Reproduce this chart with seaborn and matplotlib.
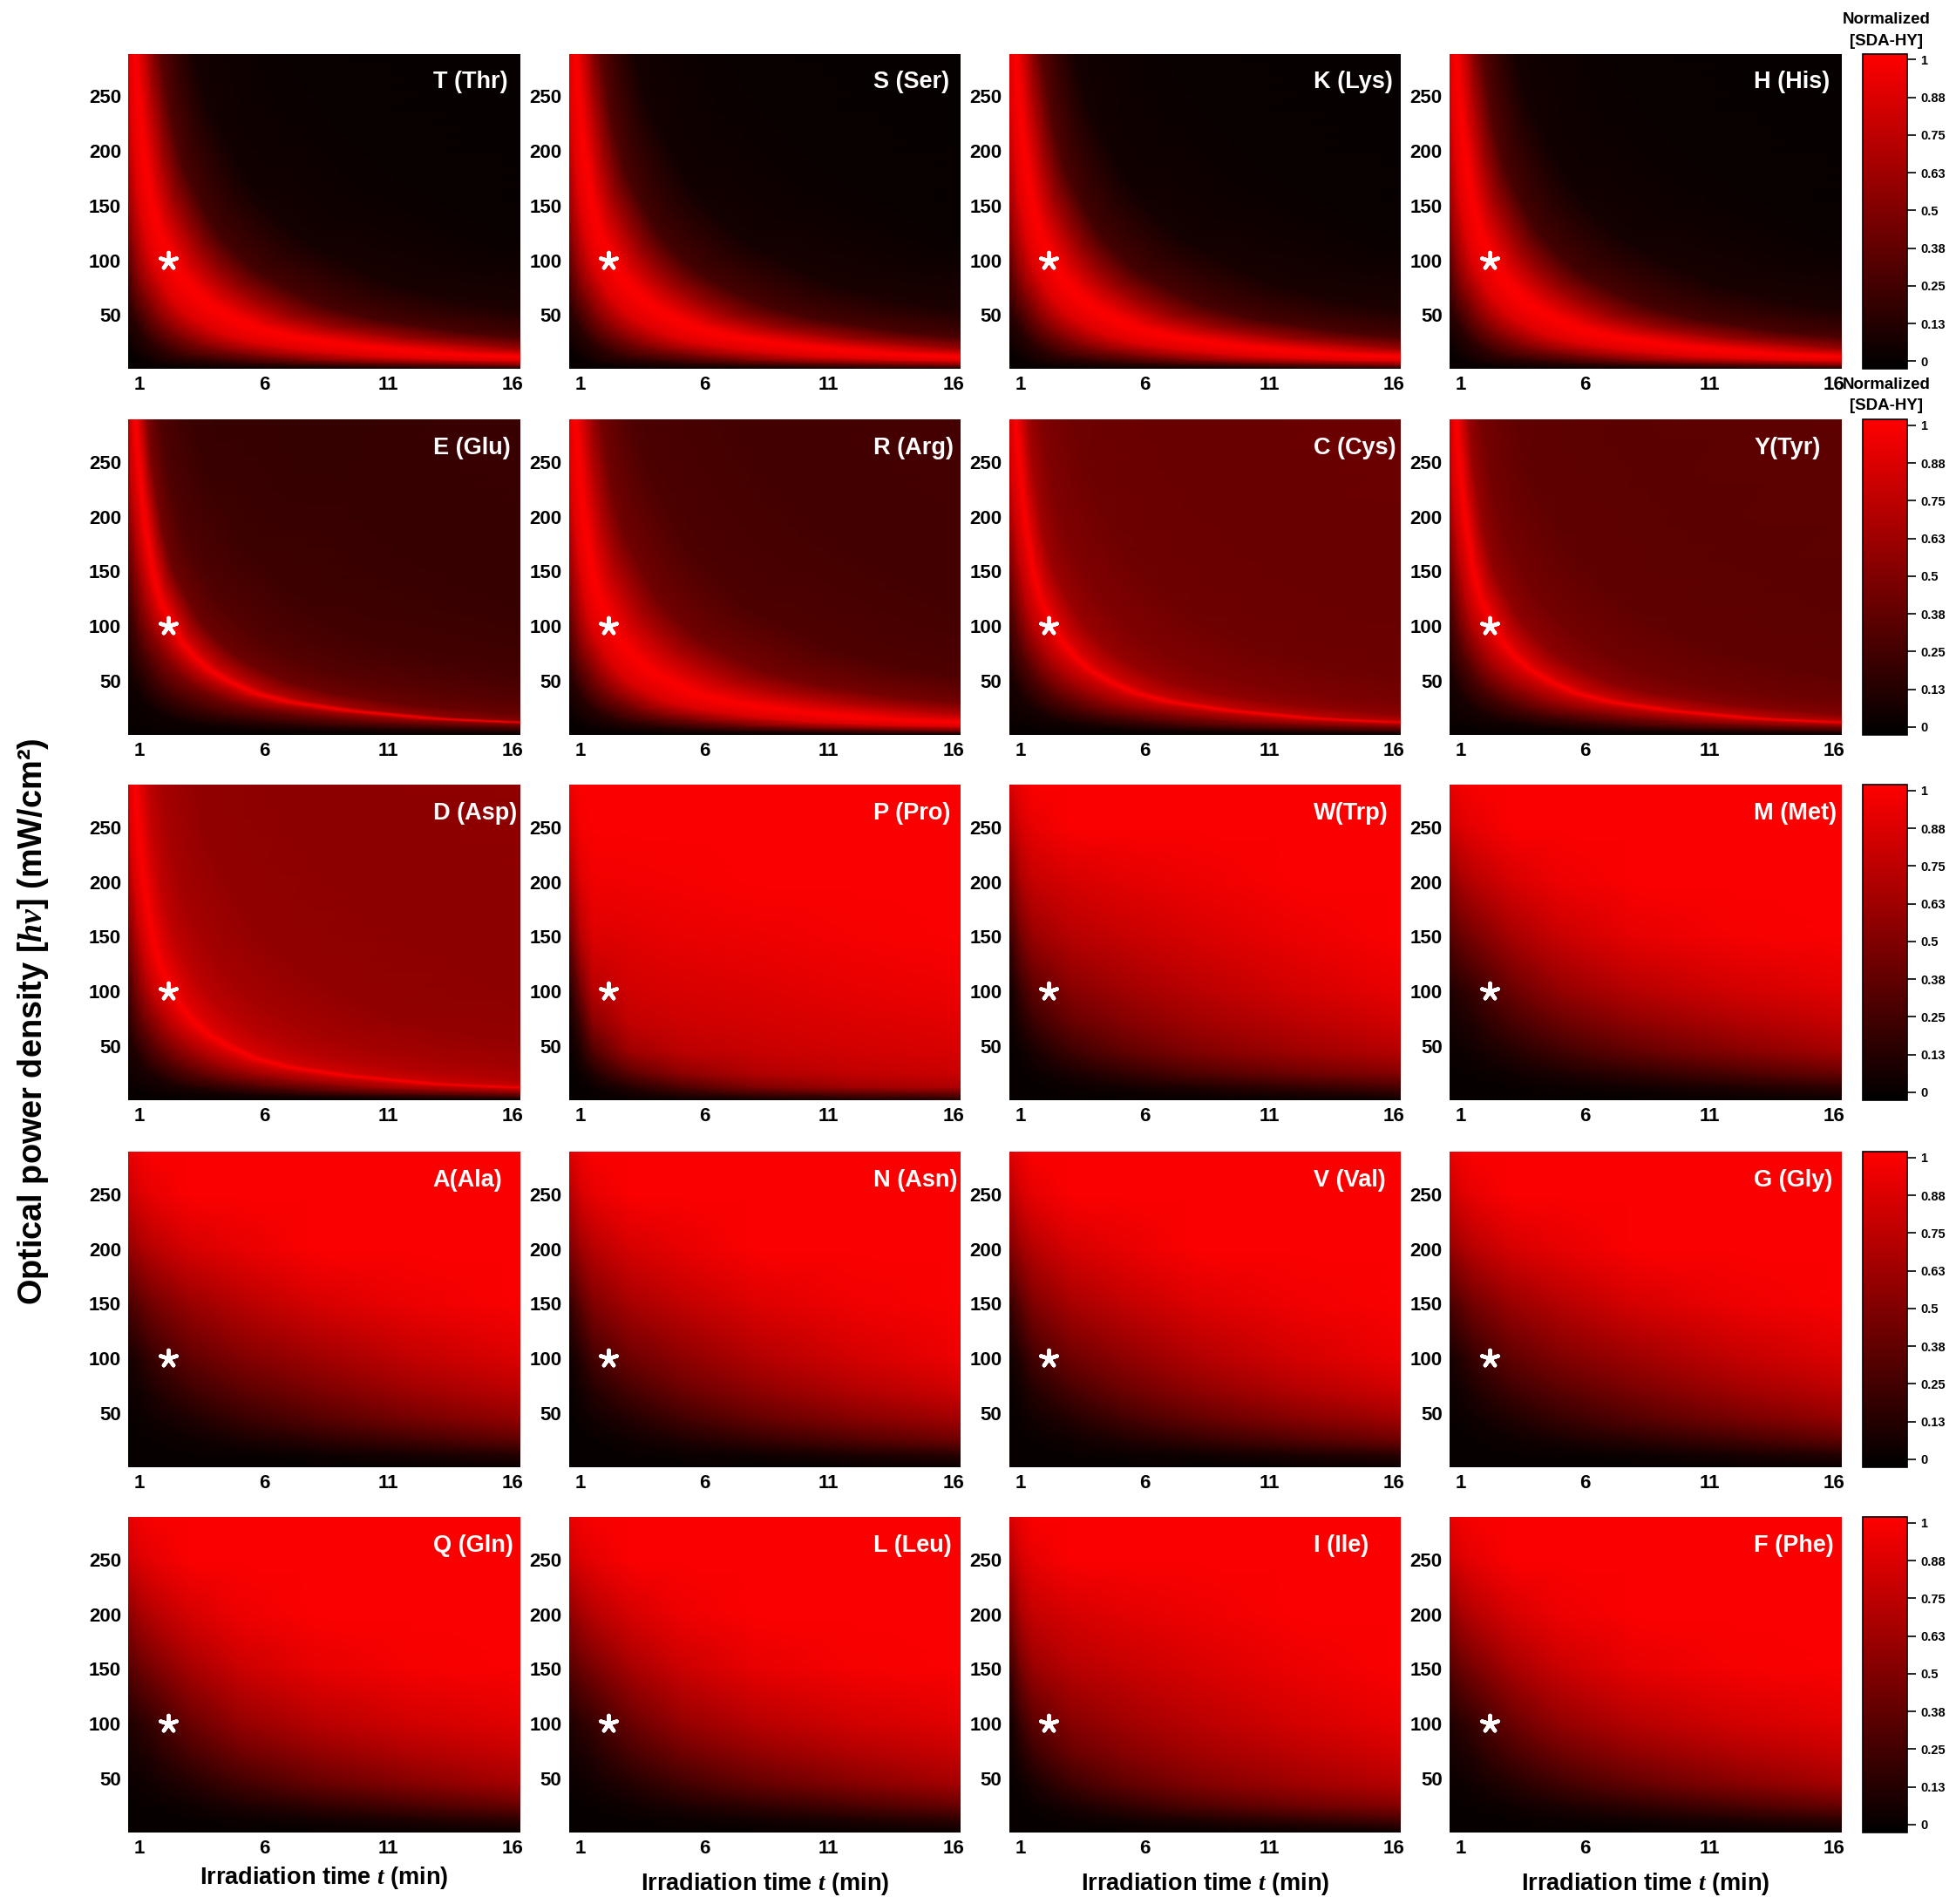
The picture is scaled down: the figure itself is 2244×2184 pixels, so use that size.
import numpy as np
import matplotlib
matplotlib.use("Agg")
import matplotlib.pyplot as plt
from matplotlib.colors import LinearSegmentedColormap
import seaborn as sns

# ridge path (t in min, P in mW/cm2) and the levels across it
ridge_t = [0.45, 0.82, 1.0, 1.17, 1.52, 1.85, 2.34, 2.7, 3.2, 3.8, 4.55, 5.6, 6.95, 9.3, 12.8, 16.3, 30, 80]
ridge_P = [600, 289, 240, 200, 150, 122, 100, 85, 72, 60, 50, 39, 31, 23, 15.5, 12, 6, 2]
across = [0.03, 0.2, 0.4, 0.6, 0.8, 0.94, 1, 1.06, 1.25, 1.5, 2, 3, 6]

# normalized values, one row per ridge point, one column per level
thr_values = [
    [0, .02, .25, .65, .90, .98, 1, .98, .78, .42, .12, .02, 0],
    [0, .02, .25, .62, .90, .98, 1, .97, .75, .40, .10, .02, 0],
    [0, .02, .22, .60, .90, .98, 1, .96, .72, .38, .09, .02, 0],
    [0, .01, .20, .58, .90, .98, 1, .96, .70, .35, .08, .01, 0],
    [0, .01, .18, .55, .88, .98, 1, .95, .68, .32, .07, .01, 0],
    [0, .01, .16, .52, .88, .98, 1, .95, .66, .29, .06, .01, 0],
    [0, .01, .15, .50, .87, .98, 1, .95, .65, .26, .05, .01, 0],
    [0, .01, .15, .50, .87, .98, 1, .95, .65, .26, .05, .01, 0],
    [0, .01, .15, .50, .87, .98, 1, .95, .64, .26, .06, .01, 0],
    [0, .01, .16, .50, .87, .98, 1, .95, .64, .26, .06, .01, 0],
    [0, .01, .17, .50, .87, .98, 1, .95, .63, .27, .07, .01, 0],
    [0, .01, .18, .50, .87, .98, 1, .95, .62, .27, .08, .01, 0],
    [0, .02, .20, .50, .88, .98, 1, .95, .62, .27, .09, .02, 0],
    [0, .02, .18, .50, .88, .98, 1, .95, .62, .28, .10, .02, 0],
    [0, .02, .17, .50, .88, .98, 1, .95, .62, .30, .11, .03, 0],
    [0, .02, .16, .50, .88, .98, 1, .95, .62, .30, .12, .03, 0],
    [0, .02, .16, .50, .88, .98, 1, .95, .62, .30, .12, .03, 0],
    [0, .02, .16, .50, .88, .98, 1, .95, .62, .30, .12, .03, 0],
]
glu_values = [
    [0, .02, .10, .40, .80, .95, 1, .95, .60, .38, .26, .22, .22],
    [0, .02, .10, .38, .78, .95, 1, .95, .58, .35, .25, .22, .22],
    [0, .02, .08, .33, .72, .93, 1, .93, .52, .33, .24, .20, .22],
    [0, .01, .07, .30, .68, .92, 1, .92, .48, .30, .22, .19, .22],
    [0, .01, .06, .27, .62, .90, 1, .90, .45, .30, .21, .19, .21],
    [0, .01, .05, .25, .58, .88, 1, .88, .42, .30, .21, .19, .21],
    [0, .01, .04, .24, .55, .86, 1, .86, .42, .30, .22, .19, .21],
    [0, .01, .04, .24, .52, .84, 1, .84, .42, .31, .22, .19, .21],
    [0, .01, .04, .24, .50, .82, 1, .82, .42, .32, .23, .20, .21],
    [0, .01, .04, .23, .48, .80, 1, .80, .42, .32, .23, .20, .21],
    [0, .01, .04, .22, .46, .78, 1, .78, .42, .32, .24, .20, .21],
    [0, .01, .04, .21, .44, .75, 1, .74, .42, .33, .25, .20, .21],
    [0, .01, .04, .20, .42, .72, 1, .70, .42, .34, .26, .20, .21],
    [0, .01, .04, .18, .40, .65, 1, .62, .40, .34, .26, .20, .20],
    [0, .01, .03, .16, .38, .60, 1, .55, .40, .34, .26, .20, .20],
    [0, .01, .03, .15, .36, .55, 1, .50, .40, .34, .26, .20, .20],
    [0, .01, .03, .15, .36, .55, 1, .50, .40, .34, .26, .20, .20],
    [0, .01, .03, .15, .36, .55, 1, .50, .40, .34, .26, .20, .20],
]
arg_values = [
    [0, .02, .22, .60, .90, .98, 1, .97, .78, .50, .30, .25, .27],
    [0, .02, .22, .58, .90, .98, 1, .97, .76, .48, .30, .25, .27],
    [0, .02, .20, .56, .89, .98, 1, .96, .74, .46, .30, .25, .27],
    [0, .01, .18, .54, .88, .98, 1, .96, .72, .45, .29, .25, .27],
    [0, .01, .16, .52, .87, .98, 1, .95, .72, .44, .29, .25, .26],
    [0, .01, .15, .50, .87, .97, 1, .95, .72, .44, .29, .25, .26],
    [0, .01, .14, .48, .86, .97, 1, .95, .72, .44, .29, .25, .26],
    [0, .01, .14, .48, .86, .97, 1, .95, .72, .44, .29, .25, .26],
    [0, .01, .14, .47, .86, .97, 1, .95, .72, .44, .29, .25, .26],
    [0, .01, .14, .47, .86, .97, 1, .95, .72, .44, .29, .25, .26],
    [0, .01, .14, .46, .86, .97, 1, .95, .72, .45, .30, .25, .26],
    [0, .01, .14, .46, .86, .97, 1, .95, .72, .45, .30, .25, .26],
    [0, .01, .14, .46, .86, .97, 1, .95, .72, .46, .30, .25, .26],
    [0, .01, .14, .46, .86, .97, 1, .95, .72, .46, .30, .25, .26],
    [0, .01, .13, .45, .86, .97, 1, .95, .72, .46, .31, .25, .26],
    [0, .01, .13, .45, .86, .97, 1, .95, .72, .46, .31, .25, .26],
    [0, .01, .13, .45, .86, .97, 1, .95, .72, .46, .31, .25, .26],
    [0, .01, .13, .45, .86, .97, 1, .95, .72, .46, .31, .25, .26],
]
cys_values = [
    [0, .03, .12, .45, .85, .97, 1, .95, .68, .52, .44, .42, .45],
    [0, .03, .12, .45, .85, .97, 1, .95, .68, .52, .44, .42, .45],
    [0, .03, .11, .42, .80, .95, 1, .94, .66, .51, .44, .42, .45],
    [0, .02, .10, .38, .76, .93, 1, .92, .64, .51, .43, .41, .44],
    [0, .02, .09, .35, .72, .92, 1, .90, .62, .50, .43, .41, .44],
    [0, .02, .08, .33, .70, .90, 1, .89, .61, .50, .42, .40, .43],
    [0, .02, .08, .32, .68, .90, 1, .88, .60, .50, .42, .40, .43],
    [0, .02, .08, .31, .66, .88, 1, .87, .60, .50, .42, .40, .43],
    [0, .02, .07, .30, .64, .86, 1, .85, .60, .50, .42, .40, .43],
    [0, .02, .07, .30, .62, .84, 1, .84, .59, .50, .42, .40, .43],
    [0, .01, .07, .29, .60, .82, 1, .82, .58, .49, .42, .40, .43],
    [0, .01, .07, .28, .58, .80, 1, .80, .58, .49, .42, .40, .42],
    [0, .01, .06, .27, .56, .78, 1, .78, .57, .49, .42, .40, .42],
    [0, .01, .06, .26, .53, .75, 1, .75, .56, .48, .42, .40, .42],
    [0, .01, .05, .25, .51, .73, 1, .73, .55, .48, .42, .40, .42],
    [0, .01, .05, .25, .50, .72, 1, .72, .55, .48, .42, .40, .42],
    [0, .01, .05, .25, .50, .72, 1, .72, .55, .48, .42, .40, .42],
    [0, .01, .05, .25, .50, .72, 1, .72, .55, .48, .42, .40, .42],
]
tyr_values = [
    [0, .03, .12, .44, .84, .97, 1, .95, .64, .47, .39, .37, .39],
    [0, .03, .12, .44, .84, .97, 1, .95, .64, .47, .39, .37, .39],
    [0, .03, .11, .41, .79, .95, 1, .94, .62, .46, .39, .37, .39],
    [0, .02, .10, .37, .75, .93, 1, .92, .60, .46, .38, .36, .38],
    [0, .02, .09, .34, .71, .92, 1, .90, .58, .45, .38, .36, .38],
    [0, .02, .08, .32, .69, .90, 1, .89, .57, .45, .37, .35, .37],
    [0, .02, .08, .31, .67, .90, 1, .88, .56, .45, .37, .35, .37],
    [0, .02, .08, .30, .65, .88, 1, .87, .56, .45, .37, .35, .37],
    [0, .02, .07, .29, .63, .86, 1, .85, .56, .45, .37, .35, .37],
    [0, .02, .07, .28, .61, .84, 1, .84, .55, .45, .37, .35, .37],
    [0, .01, .07, .27, .59, .82, 1, .82, .54, .44, .37, .35, .37],
    [0, .01, .07, .26, .57, .80, 1, .80, .54, .44, .37, .35, .36],
    [0, .01, .06, .25, .55, .78, 1, .78, .53, .44, .37, .35, .36],
    [0, .01, .06, .24, .52, .75, 1, .75, .52, .43, .37, .35, .36],
    [0, .01, .05, .23, .50, .73, 1, .73, .51, .43, .37, .35, .36],
    [0, .01, .05, .23, .49, .72, 1, .72, .51, .43, .37, .35, .36],
    [0, .01, .05, .23, .49, .72, 1, .72, .51, .43, .37, .35, .36],
    [0, .01, .05, .23, .49, .72, 1, .72, .51, .43, .37, .35, .36],
]
asp_values = [
    [0, .03, .15, .50, .88, .98, 1, .97, .80, .68, .60, .58, .62],
    [0, .03, .15, .50, .88, .98, 1, .97, .80, .68, .60, .58, .62],
    [0, .03, .14, .47, .84, .97, 1, .96, .79, .67, .59, .57, .61],
    [0, .02, .13, .44, .80, .95, 1, .95, .78, .66, .58, .56, .60],
    [0, .02, .12, .42, .77, .94, 1, .94, .77, .66, .58, .56, .59],
    [0, .02, .11, .40, .75, .93, 1, .93, .76, .65, .57, .55, .58],
    [0, .02, .10, .38, .72, .92, 1, .92, .75, .65, .57, .55, .58],
    [0, .02, .10, .37, .70, .90, 1, .90, .75, .65, .57, .55, .58],
    [0, .02, .10, .36, .68, .89, 1, .89, .74, .65, .57, .55, .57],
    [0, .02, .09, .35, .66, .87, 1, .87, .74, .65, .57, .55, .57],
    [0, .01, .09, .34, .65, .86, 1, .86, .73, .65, .57, .55, .57],
    [0, .01, .09, .33, .63, .84, 1, .84, .73, .65, .57, .55, .57],
    [0, .01, .09, .32, .62, .82, 1, .83, .72, .65, .58, .55, .56],
    [0, .01, .08, .31, .60, .80, 1, .81, .71, .65, .58, .55, .56],
    [0, .01, .08, .30, .59, .79, 1, .80, .70, .65, .58, .55, .55],
    [0, .01, .08, .30, .58, .78, 1, .80, .70, .65, .58, .55, .55],
    [0, .01, .08, .30, .58, .78, 1, .80, .70, .65, .58, .55, .55],
    [0, .01, .08, .30, .58, .78, 1, .80, .70, .65, .58, .55, .55],
]

# smooth panels on a plain grid
smooth_t = [0.55, 1.0, 1.5, 3, 5, 8, 12, 16.3]
smooth_P = [289, 250, 200, 150, 100, 70, 45, 25, 12, 1]
pro_values = [
    [.95, 1, 1, 1, 1, 1, 1, 1],
    [.85, .98, 1, 1, 1, 1, 1, 1],
    [.62, .88, .96, .97, .98, 1, 1, 1],
    [.35, .72, .88, .90, .93, .95, .98, 1],
    [.10, .42, .72, .83, .86, .88, .92, .95],
    [.04, .22, .52, .76, .81, .84, .87, .90],
    [.01, .10, .30, .62, .74, .79, .83, .86],
    [0, .03, .10, .35, .55, .70, .77, .80],
    [0, 0, .02, .12, .28, .48, .62, .68],
    [0, 0, 0, .01, .02, .04, .08, .12],
]
trp_values = [
    [.85, .95, 1, 1, 1, 1, 1, 1],
    [.68, .85, .93, 1, 1, 1, 1, 1],
    [.42, .68, .78, .85, .90, .95, 1, 1],
    [.18, .45, .60, .72, .78, .86, .94, 1],
    [.03, .20, .35, .52, .62, .73, .84, .93],
    [.01, .10, .20, .38, .50, .62, .73, .83],
    [0, .03, .08, .22, .36, .50, .62, .72],
    [0, 0, .02, .08, .17, .30, .42, .52],
    [0, 0, 0, .02, .05, .10, .18, .27],
    [0, 0, 0, 0, 0, 0, .01, .03],
]
met_values = [
    [.92, .97, .99, 1, 1, 1, 1, 1],
    [.82, .88, .92, 1, 1, 1, 1, 1],
    [.55, .65, .72, .85, .95, 1, 1, 1],
    [.32, .40, .47, .65, .80, .92, .98, 1],
    [.10, .15, .20, .40, .58, .72, .83, .90],
    [.05, .08, .11, .25, .40, .55, .68, .78],
    [.02, .03, .05, .12, .24, .38, .52, .65],
    [0, .01, .01, .04, .09, .17, .28, .40],
    [0, 0, 0, .01, .02, .05, .10, .17],
    [0, 0, 0, 0, 0, 0, .01, .02],
]
ala_values = [
    [.92, .97, 1, 1, 1, 1, 1, 1],
    [.80, .88, .93, 1, 1, 1, 1, 1],
    [.58, .66, .73, .85, .92, 1, 1, 1],
    [.28, .36, .45, .60, .72, .85, .95, 1],
    [.07, .12, .20, .37, .50, .62, .77, .88],
    [.03, .05, .10, .22, .34, .47, .62, .74],
    [.01, .02, .04, .10, .20, .32, .46, .58],
    [0, 0, .01, .03, .07, .14, .24, .36],
    [0, 0, 0, .01, .01, .03, .07, .13],
    [0, 0, 0, 0, 0, 0, .01, .02],
]
asn_values = [
    [.88, .95, 1, 1, 1, 1, 1, 1],
    [.70, .85, .92, 1, 1, 1, 1, 1],
    [.48, .62, .72, .85, .92, 1, 1, 1],
    [.18, .35, .50, .66, .76, .88, .96, 1],
    [.04, .12, .25, .42, .55, .70, .84, .95],
    [.01, .05, .12, .26, .40, .55, .70, .82],
    [0, .02, .05, .12, .24, .38, .52, .64],
    [0, 0, .01, .04, .09, .18, .30, .42],
    [0, 0, 0, .01, .02, .04, .09, .15],
    [0, 0, 0, 0, 0, 0, .01, .02],
]

panel_names = [
    ["T (Thr)", "S (Ser)", "K (Lys)", "H (His)"],
    ["E (Glu)", "R (Arg)", "C (Cys)", "Y(Tyr)"],
    ["D (Asp)", "P (Pro)", "W(Trp)", "M (Met)"],
    ["A(Ala)", "N (Asn)", "V (Val)", "G (Gly)"],
    ["Q (Gln)", "L (Leu)", "I (Ile)", "F (Phe)"],
]
panel_tables = [
    [thr_values, thr_values, thr_values, thr_values],
    [glu_values, arg_values, cys_values, tyr_values],
    [asp_values, pro_values, trp_values, met_values],
    [ala_values, asn_values, asn_values, ala_values],
    [met_values, met_values, trp_values, met_values],
]
x_ticks = [1, 6, 11, 16]
y_ticks = [50, 100, 150, 200, 250]
bar_ticks = [0, 0.125, 0.25, 0.375, 0.5, 0.625, 0.75, 0.875, 1]
bar_labels = ["0", "0.13", "0.25", "0.38", "0.5", "0.63", "0.75", "0.88", "1"]
star_t = 2.15
star_P = 100

sns.set_theme(style="white")
plt.rcParams["font.family"] = ["Liberation Sans"]
plt.rcParams["font.weight"] = "bold"
plt.rcParams["text.color"] = "black"
plt.rcParams["mathtext.fontset"] = "custom"
plt.rcParams["mathtext.it"] = "Liberation Serif:italic:bold"

W, H = 2244, 2184
fig = plt.figure(figsize=(W / 100, H / 100), dpi=100, facecolor="white")
red_map = LinearSegmentedColormap.from_list("red_map", ["black", "red"])

col_left = [147.4, 652.6, 1157.8, 1663]
row_top = [61.5, 481, 900, 1321, 1740]
ax_w, ax_h = 449.5, 361.5


def px_axes(x, y, w, h):
    return fig.add_axes([x / W, 1 - (y + h) / H, w / W, h / H])


ridge_X = np.outer(ridge_t, across)
ridge_Y = np.outer(ridge_P, across)
smooth_X, smooth_Y = np.meshgrid(smooth_t, smooth_P)

for r, top in enumerate(row_top):
    cax = px_axes(2137, top, 51, ax_h)
    for c, left in enumerate(col_left):
        ax = px_axes(left, top, ax_w, ax_h)
        table = np.array(panel_tables[r][c], dtype=float)
        last = c == 3
        sns.heatmap(table, ax=ax, cmap=red_map, vmin=-0.025, vmax=1.02,
                    cbar=last, cbar_ax=cax if last else None,
                    cbar_kws={"ticks": bar_ticks} if last else {},
                    xticklabels=False, yticklabels=False, shading="gouraud")
        mesh = ax.collections[0]
        if table.shape[1] == len(across):
            mesh._coordinates = np.dstack([ridge_X, ridge_Y])
        else:
            mesh._coordinates = np.dstack([smooth_X, smooth_Y])
        ax.set_xlim(0.55, 16.3)
        ax.set_ylim(1, 289)
        ax.set_xticks(x_ticks)
        ax.set_xticklabels(x_ticks)
        ax.set_yticks(y_ticks)
        ax.set_yticklabels(y_ticks)
        ax.tick_params(length=0, labelsize=16, pad=6, labelcolor="black")
        for s in ax.spines.values():
            s.set_visible(False)
        ax.scatter([star_t], [star_P], marker=(5, 2, 0), s=190, color="white",
                   linewidths=3.2, zorder=5)
        ax.text(0.777, 0.909, panel_names[r][c], transform=ax.transAxes, color="white",
                fontsize=19.5, fontweight="bold", ha="left", va="center")
        if last:
            cb = mesh.colorbar
            cb.set_ticklabels(bar_labels)
            cb.outline.set_linewidth(1.2)
            cb.outline.set_edgecolor("black")
            cax.tick_params(length=7, width=1.2, labelsize=10.5, pad=4, color="black",
                            labelcolor="black", right=True)

for y in [(22.5, 47), (441.5, 466)]:
    fig.text(2164 / W, 1 - y[0] / H, "Normalized", ha="center", va="center", fontsize=13.5)
    fig.text(2164 / W, 1 - y[1] / H, "[SDA-HY]", ha="center", va="center", fontsize=13.5)

x_label = r"Irradiation time $\mathit{t}$ (min)"
for left, y in zip(col_left, [2154, 2161, 2161, 2161]):
    fig.text((left + ax_w / 2) / W, 1 - y / H, x_label, ha="center", va="center", fontsize=19.5)

fig.text(38 / W, 1 - 1172 / H, r"Optical power density [$\mathit{hv}$] (mW/cm²)",
         rotation=90, ha="center", va="center", fontsize=27.3)

fig.savefig("out.png", dpi=100, facecolor="white")
